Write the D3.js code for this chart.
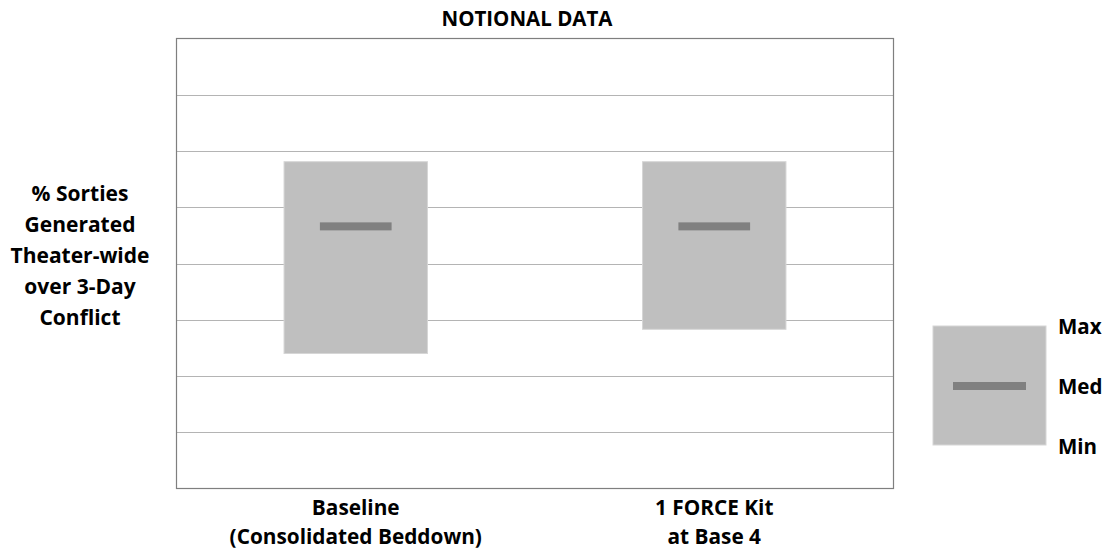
<!DOCTYPE html>
<html><head><meta charset="utf-8">
<script src="https://cdn.jsdelivr.net/npm/d3@7"></script>
<style>body{margin:0;background:#fff}svg{display:block}text{font-family:"Open Sans",sans-serif;font-weight:700;fill:#000}</style>
</head><body><svg id="c" width="1110" height="554"></svg>
<script>
const categories = [["Baseline","(Consolidated Beddown)"],["1 FORCE Kit","at Base 4"]];
const maxValues = [58.1, 58.1];
const medValues = [46.6, 46.6];
const minValues = [24.0, 28.3];
const gridTicks = [10,20,30,40,50,60,70];
const yLabelLines = ["% Sorties","Generated","Theater-wide","over 3-Day","Conflict"];
const legendLabels = ["Max","Med","Min"];
const title = "NOTIONAL DATA";

const svg = d3.select("#c");
const L=176.5, R=893.5, T=38.5, B=488.5;
const x = d3.scaleBand().domain(d3.range(categories.length)).range([L,R]);
const y = d3.scaleLinear().domain([0,80]).range([B,T]);

svg.selectAll("line.grid").data(gridTicks).join("line")
  .attr("x1",L).attr("x2",R).attr("y1",d=>Math.round(y(d))+0.5).attr("y2",d=>Math.round(y(d))+0.5)
  .attr("stroke","#b4b4b4").attr("stroke-width",1.2);
svg.append("rect").attr("x",L).attr("y",T).attr("width",R-L).attr("height",B-T)
  .attr("fill","none").attr("stroke","#7f7f7f").attr("stroke-width",1.2);

const bw = x.bandwidth();
const boxes = categories.map((c,i)=>({i,max:maxValues[i],med:medValues[i],min:minValues[i]}));
svg.selectAll("rect.box").data(boxes).join("rect")
  .attr("x",d=>x(d.i)+bw*0.3).attr("width",bw*0.4)
  .attr("y",d=>y(d.max)).attr("height",d=>y(d.min)-y(d.max))
  .attr("fill","#bfbfbf").attr("stroke","#d6d6d6").attr("stroke-width",1);
svg.selectAll("rect.med").data(boxes).join("rect")
  .attr("x",d=>x(d.i)+bw*0.4).attr("width",bw*0.2)
  .attr("y",d=>y(d.med)-4).attr("height",8)
  .attr("fill","#808080");

svg.append("text").attr("x",527).attr("y",26).attr("text-anchor","middle")
  .style("font-size","20.5px").text(title);

categories.forEach((c,i)=>{
  c.forEach((s,j)=>{
    svg.append("text").attr("x",x(i)+bw/2).attr("y",515+j*28.5).attr("text-anchor","middle")
      .style("font-size","20.8px").text(s);
  });
});

yLabelLines.forEach((s,j)=>{
  svg.append("text").attr("x",80).attr("y",201+j*31).attr("text-anchor","middle")
    .style("font-size","21px").text(s);
});

// legend
const lg = {x:933,y:326,w:113,h:119};
svg.append("rect").attr("x",lg.x).attr("y",lg.y).attr("width",lg.w).attr("height",lg.h)
  .attr("fill","#bfbfbf").attr("stroke","#d6d6d6");
svg.append("rect").attr("x",lg.x+20).attr("y",lg.y+56).attr("width",73).attr("height",8).attr("fill","#808080");
legendLabels.forEach((s,j)=>{
  svg.append("text").attr("x",1058).attr("y",334+j*60).style("font-size","20.5px").text(s);
});
</script></body></html>
